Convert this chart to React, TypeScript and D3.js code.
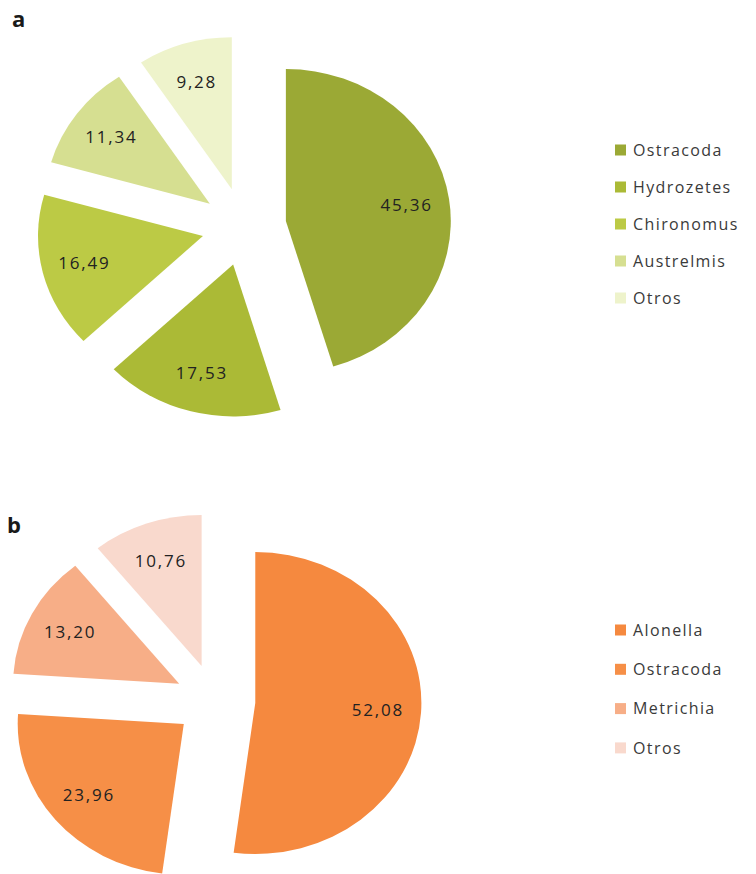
import React from "react";
import * as d3 from "d3";

const categoriesA = ["Ostracoda", "Hydrozetes", "Chironomus", "Austrelmis", "Otros"];
const valuesA = [45.36, 17.53, 16.49, 11.34, 9.28];
const labelsA = ["45,36", "17,53", "16,49", "11,34", "9,28"];
const colorsA = ["#9BA935", "#ABBA36", "#BCCA45", "#D6DF91", "#EEF3CB"];

const categoriesB = ["Alonella", "Ostracoda", "Metrichia", "Otros"];
const valuesB = [52.08, 23.96, 13.2, 10.76];
const labelsB = ["52,08", "23,96", "13,20", "10,76"];
const colorsB = ["#F5893F", "#F68F47", "#F7AE87", "#F9D9CD"];

const FONT = "'Open Sans', 'DejaVu Sans', sans-serif";

type PieProps = {
  values: number[];
  labels: string[];
  colors: string[];
  cx: number;
  cy: number;
  r: number;
  explode: number;
  sx: number;
};

function ExplodedPie({ values, labels, colors, cx, cy, r, explode, sx }: PieProps) {
  const pie = d3.pie<number>().sort(null).startAngle(0).endAngle(2 * Math.PI)(values);
  const arc = d3.arc<d3.PieArcDatum<number>>().innerRadius(0).outerRadius(r);
  const lr = r * 0.74;
  return (
    <g>
      <g transform={`translate(${cx},${cy}) scale(${sx},1)`}>
        {pie.map((p, i) => {
          const t = (p.startAngle + p.endAngle) / 2;
          const ox = Math.sin(t) * explode;
          const oy = -Math.cos(t) * explode;
          return (
            <path
              key={i}
              d={arc(p) || ""}
              transform={`translate(${ox},${oy})`}
              fill={colors[i]}
            />
          );
        })}
      </g>
      {pie.map((p, i) => {
        const t = (p.startAngle + p.endAngle) / 2;
        const x = cx + sx * Math.sin(t) * (explode + lr);
        const y = cy - Math.cos(t) * (explode + lr);
        return (
          <text
            key={i}
            x={x}
            y={y}
            dy="0.36em"
            textAnchor="middle"
            fontFamily={FONT}
            fontSize={17}
            letterSpacing={1.8}
            fill="#222"
          >
            {labels[i]}
          </text>
        );
      })}
    </g>
  );
}

type LegendProps = { names: string[]; colors: string[]; x: number; y: number; step: number };

function Legend({ names, colors, x, y, step }: LegendProps) {
  return (
    <g>
      {names.map((n, i) => (
        <g key={i} transform={`translate(${x},${y + i * step})`}>
          <rect x={0} y={-5.5} width={11} height={11} fill={colors[i]} />
          <text
            x={18}
            y={0}
            dy="0.36em"
            fontFamily={FONT}
            fontSize={16}
            letterSpacing={1.4}
            fill="#3a3a3a"
          >
            {n}
          </text>
        </g>
      ))}
    </g>
  );
}

export default function App() {
  return (
    <svg
      width={756}
      height={874}
      style={{ position: "absolute", left: 0, top: 0, background: "#fff" }}
    >
      <rect width={756} height={874} fill="#fff" />
      <text x={12} y={27} fontFamily={FONT} fontWeight="bold" fontSize={22} fill="#1a1a1a">
        a
      </text>
      <ExplodedPie
        values={valuesA}
        labels={labelsA}
        colors={colorsA}
        cx={244}
        cy={226.7}
        r={152}
        explode={39}
        sx={1.085}
      />
      <Legend names={categoriesA} colors={colorsA} x={615} y={150} step={37} />

      <text x={7} y={533} fontFamily={FONT} fontWeight="bold" fontSize={22} fill="#1a1a1a">
        b
      </text>
      <ExplodedPie
        values={valuesB}
        labels={labelsB}
        colors={colorsB}
        cx={215}
        cy={700.6}
        r={151}
        explode={36.7}
        sx={1.1}
      />
      <Legend names={categoriesB} colors={colorsB} x={615} y={630} step={39.3} />
    </svg>
  );
}
